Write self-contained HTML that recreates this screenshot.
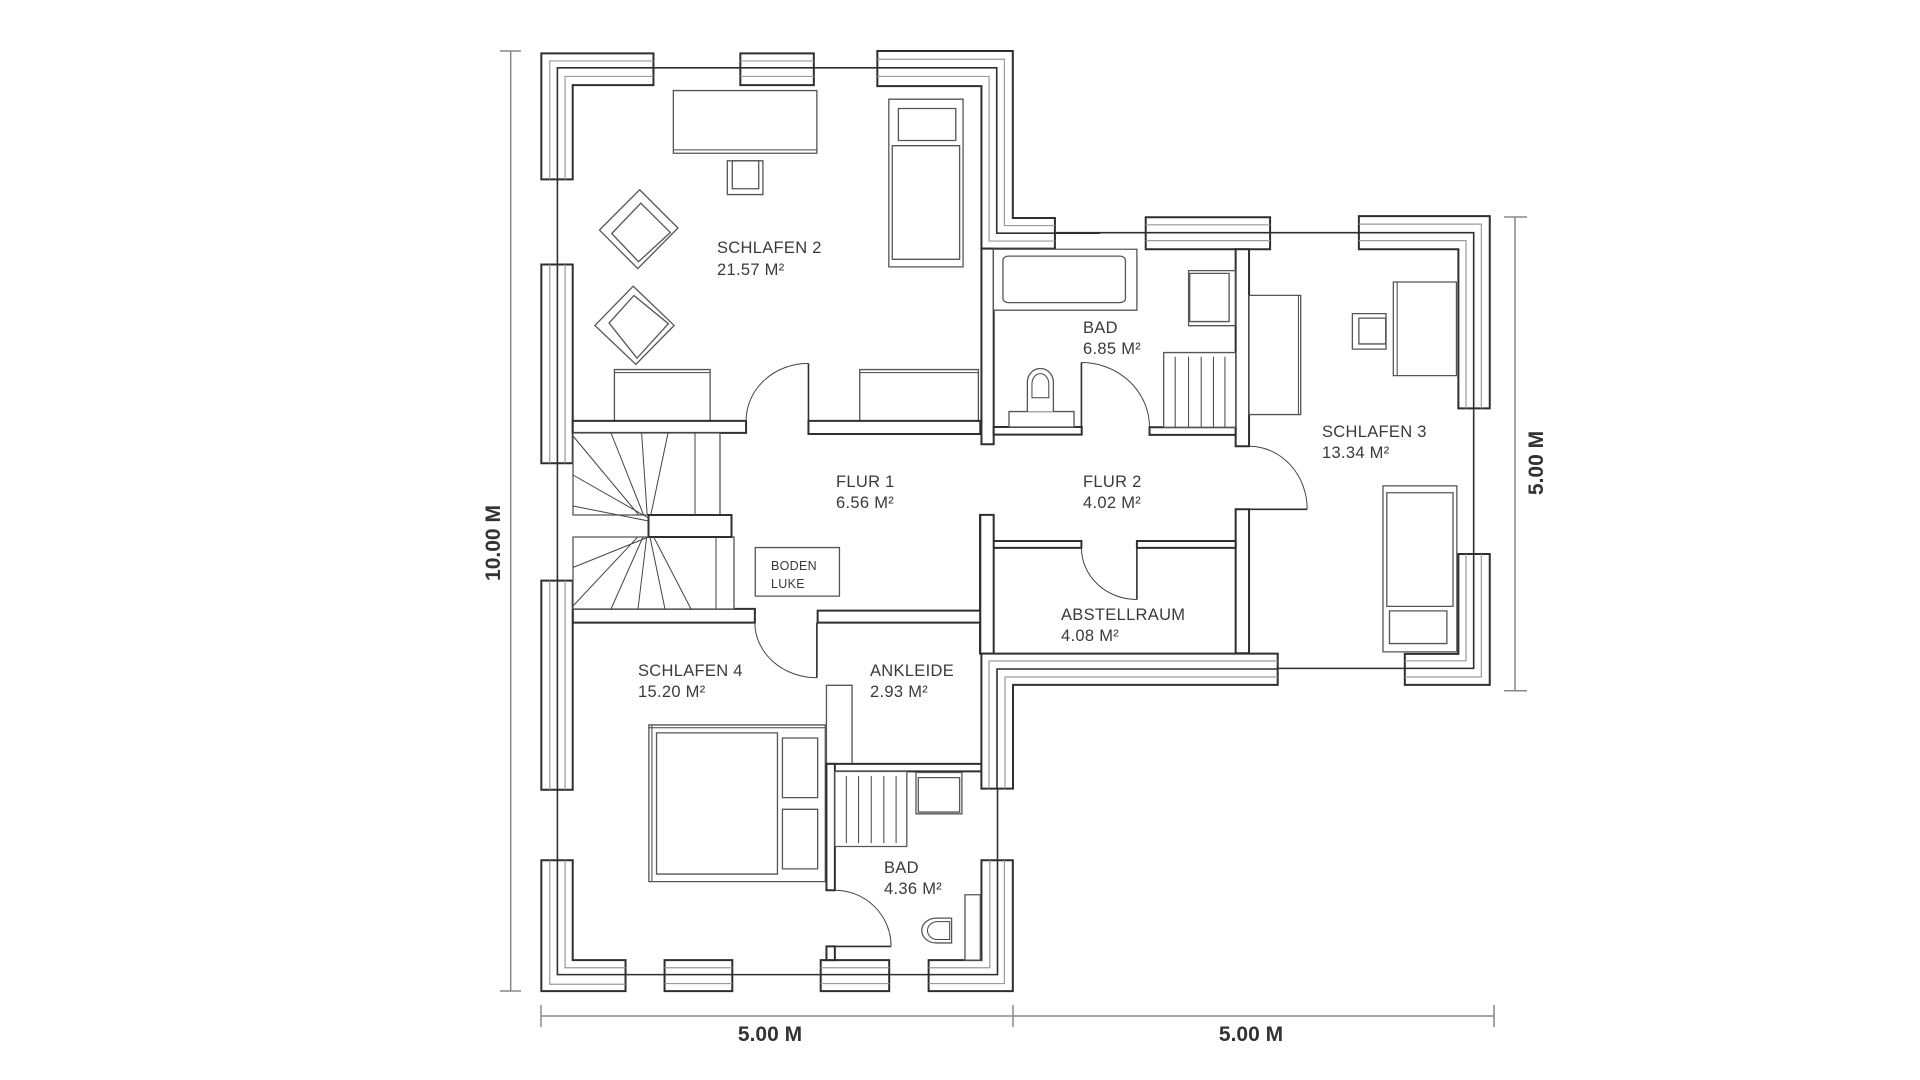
<!DOCTYPE html>
<html><head><meta charset="utf-8"><style>
html,body{margin:0;padding:0;background:#fff;}
svg{display:block;}
.t{font-family:"Liberation Sans",sans-serif;font-size:16.5px;fill:#3a3a3a;letter-spacing:0.3px;}
.d{font-family:"Liberation Sans",sans-serif;font-size:21px;font-weight:bold;fill:#333;}
</style></head><body>
<svg width="1920" height="1080" viewBox="0 0 1920 1080" xmlns="http://www.w3.org/2000/svg">
<defs>
<style>
.w{fill:#fff;stroke:#2f2f2f;stroke-width:2;vector-effect:non-scaling-stroke;}
.n{fill:none;stroke:#2f2f2f;stroke-width:1.6;vector-effect:non-scaling-stroke;}
.g{fill:none;stroke:#9a9a9a;stroke-width:1.2;vector-effect:non-scaling-stroke;}
.f{fill:#fff;stroke:#555;stroke-width:1.3;vector-effect:non-scaling-stroke;}
.th{fill:none;stroke:#444;stroke-width:1;vector-effect:non-scaling-stroke;}
</style>
</defs>

<!-- GROUP 1 (top-left region) -->
<g transform="translate(500,0) scale(0.3827,0.3444)">
  <path class="w" d="M108,155 H401 V247 H190 V521 H108 Z"/>
  <path class="g" d="M130,521 V177 H401 M170,521 V222 H401"/>
  <path class="n" d="M150,521 V197 H401"/>
  <path class="n" d="M401,197 H628 M820,197 H986"/>
  <rect class="w" x="628" y="155" width="192" height="92"/>
  <path class="g" d="M628,177 H820 M628,222 H820"/><path class="n" d="M628,197 H820"/>
  <path class="w" d="M986,148 H1340 V633 H1450 V722 H1258 V250 H986 Z"/>
  <path class="g" d="M986,172 H1318 V655 H1450 M986,222 H1278 V700 H1450"/>
  <path class="n" d="M986,197 H1298 V677 H1450"/>
  <path class="n" d="M1450,677 H1568"/>
  <path class="n" d="M150,521 V768"/>
  <rect class="w" x="108" y="768" width="82" height="577"/>
  <path class="g" d="M130,768 V1345 M170,768 V1345"/><path class="n" d="M150,768 V1345"/>
  <path class="n" d="M150,1345 V1700"/>
  <!-- desk -->
  <rect class="f" x="453" y="263" width="375" height="182"/>
  <path class="th" d="M453,435 H828"/>
  <rect class="f" x="594" y="467" width="93" height="98"/>
  <rect class="f" x="607" y="467" width="69" height="81"/>
  <!-- armchairs -->
  <polygon class="f" points="365,551 465,662 360,780 260,668"/>
  <polygon class="f" points="368,590 445,675 362,760 292,678"/>
  <polygon class="f" points="348,831 455,945 355,1058 248,945"/>
  <polygon class="f" points="350,858 440,940 358,1040 285,938"/>
  <!-- bed -->
  <rect class="f" x="1016" y="288" width="194" height="487"/>
  <rect class="f" x="1041" y="315" width="150" height="93"/>
  <rect class="f" x="1025" y="423" width="176" height="330"/>
  <!-- dressers -->
  <rect class="f" x="299" y="1073" width="250" height="149"/><path class="th" d="M299,1082 H549"/>
  <rect class="f" x="940" y="1073" width="310" height="149"/><path class="th" d="M940,1082 H1250"/>
  <!-- walls -->
  <rect class="w" x="190" y="1222" width="453" height="35"/>
  <path class="n" d="M806,1055 V1222"/>
  <path class="th" d="M806,1055 A163,167 0 0 0 643,1222"/>
  <rect class="w" x="806" y="1222" width="449" height="38"/>
  <rect class="w" x="1258" y="722" width="32" height="568"/>
  <rect class="w" x="1290" y="1240" width="230" height="22"/>
  <!-- toilet -->
  <rect class="f" x="1330" y="1195" width="170" height="45"/>
  <path class="f" d="M1378,1195 V1110 A34,40 0 0 1 1446,1110 V1195"/>
  <path class="th" d="M1390,1155 V1115 A22,30 0 0 1 1434,1115 V1155 Z"/>
</g>

<!-- GROUP 3 (right region) -->
<g transform="translate(980,200) scale(0.3827,0.3444)">
  <path class="n" d="M195,95 H433 M758,95 H990"/>
  <rect class="w" x="433" y="50" width="325" height="93"/>
  <path class="g" d="M433,72 H758 M433,118 H758"/><path class="n" d="M433,95 H758"/>
  <path class="w" d="M990,47 H1332 V605 H1250 V143 H990 Z"/>
  <path class="g" d="M990,70 H1310 V605 M990,118 H1270 V605"/>
  <path class="n" d="M990,95 H1290 V605"/>
  <path class="n" d="M1290,605 V1030"/>
  <path class="w" d="M1250,1028 H1332 V1408 H1110 V1318 H1250 Z"/>
  <path class="g" d="M1270,1028 V1338 H1110 M1310,1028 V1385 H1110"/>
  <path class="n" d="M1290,1028 V1360 H1110"/>
  <path class="n" d="M778,1360 H1110"/>
  <!-- walls -->
  <rect class="w" x="668" y="143" width="35" height="572"/>
  <rect class="w" x="668" y="898" width="35" height="418"/>
  <rect class="w" x="443" y="660" width="225" height="22"/>
  <path class="n" d="M265,472 V660"/>
  <path class="th" d="M265,472 A178,188 0 0 1 443,660"/>
  <path class="n" d="M703,898 H855"/>
  <path class="th" d="M703,715 A152,183 0 0 1 855,898"/>
  <rect class="w" x="0" y="915" width="35" height="401"/>
  <rect class="w" x="35" y="990" width="230" height="20"/>
  <rect class="w" x="410" y="990" width="258" height="20"/>
  <path class="n" d="M410,1010 V1160"/>
  <path class="th" d="M265,1010 A145,150 0 0 0 410,1160"/>
  <!-- bath fixtures -->
  <rect class="f" x="35" y="143" width="375" height="177"/>
  <rect class="f" x="60" y="163" width="320" height="135" rx="14" ry="12"/>
  <rect class="f" x="545" y="205" width="122" height="160"/>
  <rect class="f" x="548" y="213" width="103" height="140"/>
  <rect class="f" x="480" y="443" width="188" height="217"/>
  <path class="th" d="M510,455 V660 M545,455 V660 M578,455 V660 M610,455 V660 M640,455 V660"/>
  <!-- schlafen 3 -->
  <rect class="f" x="703" y="277" width="135" height="346"/><path class="th" d="M832,277 V623"/>
  <rect class="f" x="1080" y="238" width="165" height="272"/><path class="th" d="M1090,238 V510"/>
  <rect class="f" x="973" y="330" width="88" height="103"/>
  <rect class="f" x="990" y="343" width="70" height="75"/>
  <rect class="f" x="1053" y="830" width="193" height="482"/>
  <rect class="f" x="1063" y="850" width="173" height="330"/>
  <rect class="f" x="1070" y="1193" width="150" height="95"/>
</g>

<!-- GROUP 2 (bottom-left region) -->
<g transform="translate(500,540) scale(0.3827,0.3444)">
  <rect class="f" x="667" y="22" width="220" height="141"/>
  <rect class="w" x="190" y="200" width="476" height="40"/>
  <rect class="w" x="830" y="205" width="425" height="35"/>
  <rect class="w" x="1255" y="-73" width="35" height="403"/>
  <path class="n" d="M828,240 V400"/>
  <path class="th" d="M666,240 A162,160 0 0 0 828,400"/>
  <rect class="w" x="108" y="118" width="82" height="607"/>
  <path class="g" d="M130,118 V725 M170,118 V725"/><path class="n" d="M150,118 V725"/>
  <path class="n" d="M150,725 V930"/>
  <path class="w" d="M108,930 H190 V1220 H328 V1310 H108 Z"/>
  <path class="g" d="M130,930 V1290 H328 M170,930 V1242 H328"/>
  <path class="n" d="M150,930 V1262 H328"/>
  <path class="n" d="M328,1262 H430 M607,1262 H838 M1017,1262 H1120"/>
  <rect class="w" x="430" y="1220" width="177" height="90"/>
  <path class="g" d="M430,1242 H607 M430,1288 H607"/><path class="n" d="M430,1262 H607"/>
  <rect class="w" x="838" y="1220" width="179" height="90"/>
  <path class="g" d="M838,1242 H1017 M838,1288 H1017"/><path class="n" d="M838,1262 H1017"/>
  <path class="w" d="M1120,1220 H1258 V930 H1340 V1310 H1120 Z"/>
  <path class="g" d="M1120,1242 H1280 V930 M1120,1288 H1318 V930"/>
  <path class="n" d="M1120,1262 H1300 V930"/>
  <path class="n" d="M1300,722 V930"/>
  <!-- furniture -->
  <rect class="f" x="853" y="422" width="67" height="228"/>
  <rect class="f" x="389" y="537" width="461" height="455"/><path class="th" d="M397,537 V992 M389,545 H850"/>
  <rect class="f" x="409" y="560" width="316" height="410"/>
  <rect class="f" x="738" y="575" width="92" height="173"/>
  <rect class="f" x="738" y="782" width="92" height="173"/>
  <rect class="w" x="853" y="650" width="405" height="22"/>
  <rect class="w" x="853" y="650" width="22" height="367"/>
  <rect class="w" x="853" y="1180" width="22" height="40"/>
  <rect class="f" x="875" y="672" width="188" height="218"/>
  <path class="th" d="M905,685 V880 M937,685 V880 M970,685 V880 M1003,685 V880 M1035,685 V880"/>
  <rect class="f" x="1087" y="675" width="120" height="120"/>
  <rect class="f" x="1093" y="690" width="108" height="100"/>
  <path class="n" d="M875,1180 H1022"/>
  <path class="th" d="M875,1017 A147,163 0 0 1 1022,1180"/>
  <rect class="f" x="1215" y="1030" width="40" height="190"/>
  <path class="f" d="M1180,1098 H1140 A38,36 0 0 0 1140,1170 H1180 Z"/>
  <path class="th" d="M1175,1108 H1143 A26,26 0 0 0 1143,1160 H1175 Z"/>
</g>

<!-- right lower-block L window (real coords) -->
<path class="w" d="M981.4,653.6 H1277.7 V684.9 H1013 V788.6 H981.4 Z"/>
<path class="g" d="M989,788.6 V661 H1277.7 M1005,788.6 V677 H1277.7"/>
<path class="n" d="M997,788.6 V669 H1277.7"/>

<!-- stairs (real coords) -->
<rect class="f" x="573" y="433" width="147" height="82"/>
<rect class="f" x="573" y="537" width="161" height="72"/>
<rect class="w" x="648.5" y="515" width="83" height="22"/>
<path class="th" d="M573,436 L638.8,515 M611,433 L643.6,515 M641.6,433 L647.2,515 M668,433 L650.8,515 M695,433 V515 M573,475 L648.5,518 M573,506 L648.5,521"/>
<path class="th" d="M573,567.5 L648.5,537 M573,606 L637.7,537 M611,609 L643,537 M638,609 L646.7,537 M665,609 L650,537 M691,609 L653.7,537 M716,537 V609"/>

<!-- dimensions -->
<path class="g" style="stroke:#888;stroke-width:1.5" d="M541,1016 H1494 M541,1005 V1027 M1013,1005 V1027 M1494,1005 V1027"/>
<path class="g" style="stroke:#888;stroke-width:1.5" d="M510.7,51 V991 M500,51 H521 M500,991 H521"/>
<path class="g" style="stroke:#888;stroke-width:1.5" d="M1515,217 V690.7 M1504,217 H1527 M1504,690.7 H1527"/>
<text class="d" x="770" y="1041" text-anchor="middle">5.00 M</text>
<text class="d" x="1251" y="1041" text-anchor="middle">5.00 M</text>
<text class="d" transform="translate(500,543) rotate(-90)" text-anchor="middle">10.00 M</text>
<text class="d" transform="translate(1543,463) rotate(-90)" text-anchor="middle">5.00 M</text>

<!-- labels -->
<text class="t" x="717" y="253">SCHLAFEN 2</text><text class="t" x="717" y="275">21.57 M²</text>
<text class="t" x="836" y="487">FLUR 1</text><text class="t" x="836" y="508">6.56 M²</text>
<text class="t" x="1083" y="333">BAD</text><text class="t" x="1083" y="354">6.85 M²</text>
<text class="t" x="1083" y="487">FLUR 2</text><text class="t" x="1083" y="508">4.02 M²</text>
<text class="t" x="1322" y="437">SCHLAFEN 3</text><text class="t" x="1322" y="458">13.34 M²</text>
<text class="t" x="1061" y="620">ABSTELLRAUM</text><text class="t" x="1061" y="641">4.08 M²</text>
<text class="t" x="638" y="676">SCHLAFEN 4</text><text class="t" x="638" y="697">15.20 M²</text>
<text class="t" x="870" y="676">ANKLEIDE</text><text class="t" x="870" y="697">2.93 M²</text>
<text class="t" x="884" y="873">BAD</text><text class="t" x="884" y="894">4.36 M²</text>
<text class="t" style="font-size:12.5px" x="771" y="570">BODEN</text>
<text class="t" style="font-size:12.5px" x="771" y="588">LUKE</text>
</svg>
</body></html>
